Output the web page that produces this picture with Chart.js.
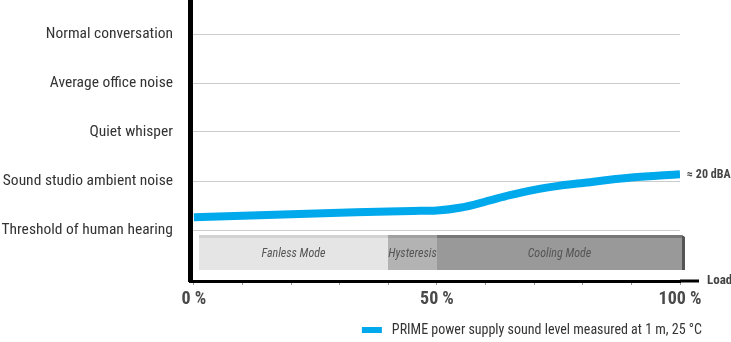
<!DOCTYPE html>
<html>
<head>
<meta charset="utf-8">
<script src="https://cdn.jsdelivr.net/npm/chart.js@4/dist/chart.umd.min.js"></script>
<style>
  html, body { margin: 0; padding: 0; background: #fff; }
  #wrap { width: 731px; height: 342px; }
</style>
</head>
<body>
<div id="wrap"><canvas id="noise"></canvas></div>
<script>
// reference loudness levels on the y axis (1 = lowest)
var levels = ['Threshold of human hearing', 'Sound studio ambient noise', 'Quiet whisper',
              'Average office noise', 'Normal conversation'];

// measured curve: load in % vs level
var loadPct    = [0, 10, 20, 30, 40, 45, 50, 55, 60, 65, 70, 75, 80, 90, 100];
var soundLevel = [1.26, 1.29, 1.32, 1.35, 1.38, 1.39, 1.40, 1.46, 1.58, 1.71, 1.82, 1.90, 1.96, 2.07, 2.14];

// fan operating modes along the load axis
var modeNames = ['Fanless Mode', 'Hysteresis', 'Cooling Mode'];
var modeFrom  = [1, 40, 50];
var modeTo    = [40, 50, 100];

var endLabel = '\u2248 20 dBA';
var seriesName = 'PRIME power supply sound level measured at 1 m, 25 \u00B0C';

var FONT = '"Roboto Condensed", "Liberation Sans", sans-serif';
var BLUE = '#00a8ec';

var points = loadPct.map(function(x, i){ return {x: x, y: soundLevel[i]}; });

// band of modes under the curve + extra labels
var extras = {
  id: 'extras',
  beforeDatasetsDraw: function(chart){
    var ctx = chart.ctx, xs = chart.scales.x, ys = chart.scales.y;
    var top = Math.round(ys.getPixelForValue(0.9)), bot = Math.round(ys.getPixelForValue(0.185));
    var body = ['#e5e5e5', '#b3b3b3', '#999999'];
    var lip  = ['#d2d2d2', '#a0a0a0', '#777777'];
    ctx.save();
    for (var i = 0; i < modeNames.length; i++) {
      var l = Math.round(xs.getPixelForValue(modeFrom[i]));
      var r = Math.round(xs.getPixelForValue(modeTo[i])) + (i == 2 ? 2 : 0);
      ctx.fillStyle = body[i];
      ctx.fillRect(l, top, r - l, bot - top);
      ctx.fillStyle = lip[i];
      ctx.fillRect(l, top, r - l, 3);
      if (i == 2) {
        // dark side face
        ctx.fillStyle = '#555555';
        ctx.beginPath();
        ctx.moveTo(r, top); ctx.lineTo(r + 3, top + 2); ctx.lineTo(r + 3, bot); ctx.lineTo(r, bot);
        ctx.closePath(); ctx.fill();
      }
      ctx.fillStyle = '#555555';
      ctx.font = 'italic 12px ' + FONT;
      ctx.textAlign = 'center';
      ctx.textBaseline = 'middle';
      ctx.fillText(modeNames[i], (l + r) / 2, (top + bot) / 2 + 1);
    }
    ctx.restore();
  },
  afterDraw: function(chart){
    var ctx = chart.ctx, xs = chart.scales.x, ys = chart.scales.y, area = chart.chartArea;
    ctx.save();
    // axis runs on past the chart area to the "Load" caption
    var ay = area.bottom;
    ctx.strokeStyle = '#000'; ctx.lineWidth = 3;
    ctx.beginPath(); ctx.moveTo(area.right, ay); ctx.lineTo(area.right + 19, ay); ctx.stroke();
    ctx.fillStyle = '#444';
    ctx.font = 'bold 13px ' + FONT;
    ctx.textAlign = 'left'; ctx.textBaseline = 'middle';
    ctx.fillText('Load', area.right + 27, ay);

    // value at the end of the curve
    var last = soundLevel.length - 1;
    ctx.font = 'bold 12px ' + FONT;
    ctx.fillText(endLabel, xs.getPixelForValue(loadPct[last]) + 7, ys.getPixelForValue(soundLevel[last]) + 1);

    // legend, bottom right
    ctx.font = '14px ' + FONT;
    var tw = ctx.measureText(seriesName).width;
    var tx = area.right + 22 - tw, ty = 330;
    ctx.fillStyle = BLUE;
    ctx.fillRect(tx - 30, ty - 3, 20, 6);
    ctx.fillStyle = '#333';
    ctx.fillText(seriesName, tx, ty);
    ctx.restore();
  }
};

new Chart(document.getElementById('noise'), {
  type: 'line',
  data: {
    datasets: [{
      label: seriesName,
      data: points,
      borderColor: BLUE,
      borderWidth: 8,
      borderCapStyle: 'butt',
      pointRadius: 0,
      fill: false,
      cubicInterpolationMode: 'monotone'
    }]
  },
  options: {
    responsive: true,
    maintainAspectRatio: false,
    animation: false,
    layout: { padding: { left: 0, right: 51, top: 0, bottom: 0 } },
    plugins: { legend: { display: false }, tooltip: { enabled: false } },
    scales: {
      x: {
        type: 'linear', min: -0.8, max: 100,
        afterFit: function(s){ s.height = 61; s.paddingTop = 0; s.paddingBottom = 0; },
        border: { color: '#000', width: 3 },
        grid: { drawOnChartArea: false, drawTicks: true, tickLength: 4, tickColor: '#999' },
        ticks: {
          stepSize: 10, autoSkip: false, maxRotation: 0, padding: 4, includeBounds: false,
          color: '#4a4a4a', font: { family: FONT, size: 18, weight: 'bold' },
          callback: function(v){ return v % 50 === 0 ? v + ' %' : ''; }
        }
      },
      y: {
        min: -2 / 49, max: 279 / 49,
        afterFit: function(s){ s.width = 190; s.paddingTop = 0; s.paddingBottom = 0; },
        afterBuildTicks: function(s){ s.ticks = levels.map(function(t, i){ return {value: i + 1}; }); },
        border: { color: '#000', width: 5 },
        grid: { color: '#cccccc', lineWidth: 1, drawTicks: false },
        ticks: {
          padding: 17, color: '#333',
          font: { family: FONT, size: 15.5 },
          callback: function(v){ return levels[v - 1] || ''; }
        }
      }
    }
  },
  plugins: [extras]
});
</script>
</body>
</html>
